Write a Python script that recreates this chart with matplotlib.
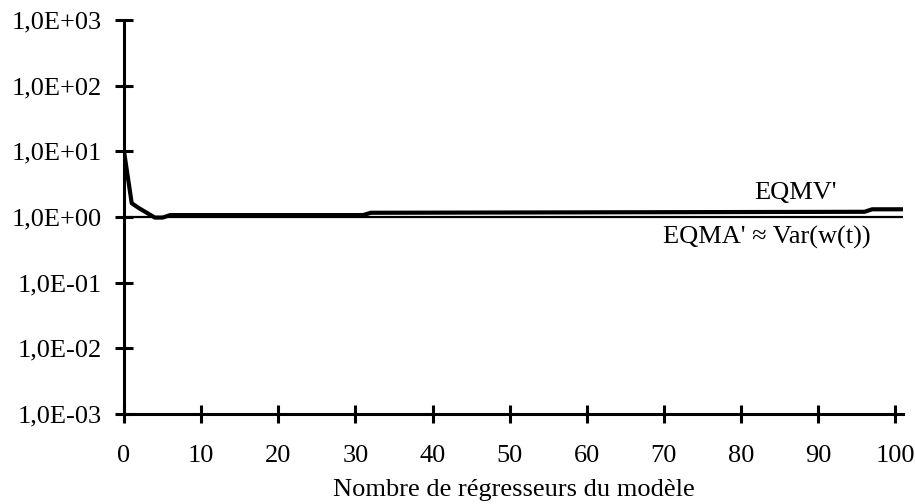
import numpy as np
import matplotlib
matplotlib.use("Agg")
import matplotlib.pyplot as plt

# Data (breakpoints of the curves)
nb_regresseurs = [0, 1, 2, 3, 4, 5, 6, 31, 32, 96, 97, 101]
eqmv = [10.0, 1.62, 1.35, 1.15, 0.98, 0.98, 1.07, 1.07, 1.16, 1.2, 1.31, 1.31]
eqma_x = [0, 101]
eqma = [1.0, 1.0]

x_ticks = [0, 10, 20, 30, 40, 50, 60, 70, 80, 90, 100]
y_ticks = [1e-3, 1e-2, 1e-1, 1e0, 1e1, 1e2, 1e3]
y_tick_labels = ["1,0E-03", "1,0E-02", "1,0E-01", "1,0E+00", "1,0E+01", "1,0E+02", "1,0E+03"]

plt.rcParams['font.family'] = ['Liberation Serif', 'DejaVu Serif']

fig = plt.figure(figsize=(9.15, 5.04), dpi=100)
ax = fig.add_axes([124 / 915, 1 - 414 / 504, (903 - 124) / 915, (414 - 20) / 504])

ax.plot(nb_regresseurs, eqmv, color='black', linewidth=3.0, solid_joinstyle='round')
ax.plot(eqma_x, eqma, color='black', linewidth=1.6)

ax.set_yscale('log')
ax.set_xlim(0, 101)
ax.set_ylim(1e-3, 1e3)
ax.set_xticks(x_ticks)
ax.set_xticklabels([str(v) for v in x_ticks])
ax.set_yticks(y_ticks)
ax.set_yticklabels(y_tick_labels)
ax.minorticks_off()

for side in ['top', 'right']:
    ax.spines[side].set_visible(False)
for side in ['left', 'bottom']:
    ax.spines[side].set_linewidth(2.2)

ax.tick_params(axis='both', direction='inout', length=13, width=2.2, labelsize=19, colors='black')
ax.tick_params(axis='y', pad=9.5)
ax.tick_params(axis='x', pad=15.5)

ax.set_xlabel("Nombre de régresseurs du modèle", fontsize=19, labelpad=9)

# curve labels
ax.text(87.0, 1.85, "EQMV'", fontsize=19, ha='center', va='baseline')
ax.text(83.4, 0.394, "EQMA' ≈ Var(w(t))", fontsize=19, ha='center', va='baseline')

fig.savefig("out.png", dpi=100)
